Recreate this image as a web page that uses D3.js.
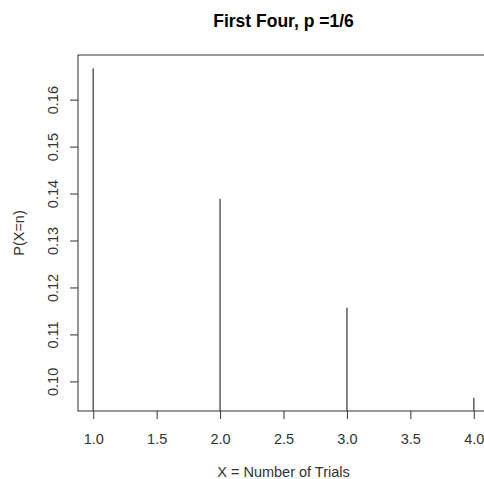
<!DOCTYPE html>
<html>
<head>
<meta charset="utf-8">
<script src="https://cdn.jsdelivr.net/npm/d3@7"></script>
<style>
  body { margin: 0; background: #fff; overflow: hidden; }
  svg { display: block; overflow: hidden; font-family: "Liberation Sans", Arial, sans-serif; }
</style>
</head>
<body>
<div id="chart"></div>
<script>

//////////////////////
// Data
//////////////////////

var trials = [1, 2, 3, 4];
var probs = [0.1667, 0.1389, 0.1157, 0.0965];
var xTicks = [1.0, 1.5, 2.0, 2.5, 3.0, 3.5, 4.0];
var yTicks = [0.10, 0.11, 0.12, 0.13, 0.14, 0.15, 0.16];

var title = "First Four, p =1/6";
var xLabel = "X = Number of Trials";
var yLabel = "P(X=n)";

//////////////////////
// Layout
//////////////////////

var w = 484, h = 479;
var box = { left: 78, right: 489, top: 55, bottom: 411 };
var fs = 14.5;

var svg = d3.select("#chart").append("svg")
    .attr("width", w)
    .attr("height", h);

// R style 4% padding of the data range
function padded(ext) {
    var d = (ext[1] - ext[0]) * 0.04;
    return [ext[0] - d, ext[1] + d];
}

var x = d3.scaleLinear()
    .domain(padded(d3.extent(trials)))
    .range([box.left, box.right]);

var y = d3.scaleLinear()
    .domain(padded(d3.extent(probs)))
    .range([box.bottom, box.top]);

//////////////////////
// Spikes (type = "h")
//////////////////////

svg.append("g").attr("class", "spikes")
    .selectAll("line")
    .data(trials)
    .enter()
    .append("line")
        .attr("x1", function(d) { return x(d); })
        .attr("x2", function(d) { return x(d); })
        .attr("y1", function(d, i) { return y(probs[i]); })
        .attr("y2", box.bottom)
        .attr("stroke", "#666")
        .attr("stroke-width", 1.6);

//////////////////////
// Box
//////////////////////

svg.append("rect")
    .attr("x", box.left)
    .attr("y", box.top)
    .attr("width", box.right - box.left)
    .attr("height", box.bottom - box.top)
    .attr("fill", "none")
    .attr("stroke", "#333")
    .attr("stroke-width", 1);

//////////////////////
// Axes
//////////////////////

var xAxis = svg.append("g")
    .attr("transform", "translate(0," + box.bottom + ")")
    .call(d3.axisBottom(x)
        .tickValues(xTicks)
        .tickSize(8)
        .tickFormat(d3.format(".1f")));

var yAxis = svg.append("g")
    .attr("transform", "translate(" + box.left + ",0)")
    .call(d3.axisLeft(y)
        .tickValues(yTicks)
        .tickSize(8)
        .tickFormat(d3.format(".2f")));

[xAxis, yAxis].forEach(function(a) {
    a.select(".domain").remove();
    a.selectAll(".tick line").attr("stroke", "#333");
    a.selectAll(".tick text")
        .attr("fill", "#333")
        .style("font-size", fs + "px")
        .style("font-family", "Liberation Sans, Arial, sans-serif");
});

// baseline of x tick labels
xAxis.selectAll(".tick text")
    .attr("dy", null)
    .attr("y", 444 - box.bottom);

// rotate y tick labels like R's default las=0
yAxis.selectAll(".tick text")
    .attr("x", null)
    .attr("dy", null)
    .attr("text-anchor", "middle")
    .attr("transform", "translate(" + (58 - box.left) + ",0) rotate(-90)")
    .attr("y", 0);

//////////////////////
// Titles
//////////////////////

var cx = (box.left + box.right) / 2;

svg.append("text")
    .attr("x", cx)
    .attr("y", 27)
    .attr("text-anchor", "middle")
    .style("font-size", "17.5px")
    .style("font-weight", "bold")
    .attr("fill", "#000")
    .text(title);

svg.append("text")
    .attr("x", cx)
    .attr("y", 477)
    .attr("text-anchor", "middle")
    .style("font-size", fs + "px")
    .attr("fill", "#333")
    .text(xLabel);

svg.append("text")
    .attr("transform", "translate(24," + ((box.top + box.bottom) / 2) + ") rotate(-90)")
    .attr("text-anchor", "middle")
    .style("font-size", fs + "px")
    .attr("fill", "#333")
    .text(yLabel);

</script>
</body>
</html>
